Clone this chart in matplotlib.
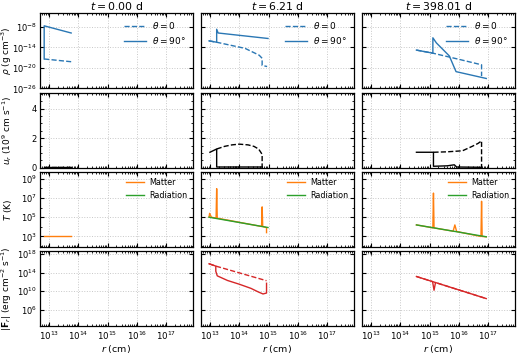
import numpy as np
import matplotlib
matplotlib.use('Agg')
import matplotlib.pyplot as plt
from matplotlib.ticker import FixedLocator, LogLocator, MultipleLocator, NullFormatter

#--Data (log10 r in cm, log10 of quantities)
titles = ['$t = 0.00$ d', '$t = 6.21$ d', '$t = 398.01$ d']

#density, theta = 0 (dashed) and theta = 90 (solid)
rho0_r = [[12.84, 13.76],
          [12.97, 13.23, 14.2, 14.68, 14.78, 14.78, 14.95],
          [14.55, 15.11, 16.0, 16.77, 16.77]]
rho0_v = [[-17.4, -18.2],
          [-12.1, -12.5, -14.3, -16.3, -17.2, -19.3, -19.6],
          [-14.8, -15.7, -17.5, -19.1, -22.4]]
rho90_r = [[12.84, 12.84, 13.76],
           [12.97, 13.23, 13.23, 13.28, 14.98],
           [14.55, 15.11, 15.11, 15.23, 15.45, 15.67, 15.79, 15.9, 16.93]]
rho90_v = [[-17.4, -7.7, -9.8],
           [-12.1, -12.5, -8.7, -9.8, -11.4],
           [-14.8, -15.7, -11.2, -12.7, -14.6, -16.5, -18.9, -21.1, -23.1]]

#radial velocity (1e9 cm/s)
u0_r = [[12.84, 13.76],
        [13.23, 13.5, 13.75, 14.0, 14.3, 14.5, 14.66, 14.75, 14.78, 14.78],
        [15.13, 15.6, 16.12, 16.45, 16.65, 16.77, 16.77]]
u0_v = [[0.02, 0.02],
        [1.27, 1.45, 1.55, 1.6, 1.55, 1.45, 1.27, 1.0, 0.9, 0.0],
        [1.05, 1.08, 1.15, 1.45, 1.65, 1.82, 0.0]]
u90_r = [[12.84, 13.76],
         [13.0, 13.23, 13.23, 14.78],
         [14.55, 15.13, 15.13, 15.6, 15.84, 15.92, 16.77]]
u90_v = [[0.02, 0.02],
         [1.05, 1.27, 0.05, 0.05],
         [1.05, 1.05, 0.1, 0.13, 0.2, 0.05, 0.03]]

#temperatures
tm_r = [[12.84, 13.76],
        [12.97, 12.99, 13.05, 13.21, 13.23, 13.25, 14.76, 14.78, 14.8, 14.9, 14.93, 14.93],
        [14.55, 15.11, 15.13, 15.15, 15.8, 15.86, 15.92, 16.75, 16.77, 16.79, 16.93]]
tm_v = [[3.0, 3.0],
        [5.0, 5.4, 5.0, 4.9, 7.96, 4.9, 4.04, 6.07, 4.03, 3.95, 3.9, 3.4],
        [4.2, 3.9, 7.5, 3.89, 3.55, 4.2, 3.52, 3.0, 6.65, 3.0, 2.97]]
tr_r = [[], [12.97, 14.98], [14.55, 16.93]]
tr_v = [[], [5.0, 3.93], [4.2, 2.97]]

#radiative flux, theta = 0 (dashed) and theta = 90 (solid)
f0_r = [[], [12.97, 13.2, 14.93], [14.55, 16.93]]
f0_v = [[], [15.9, 15.4, 12.25], [13.16, 8.4]]
f90_r = [[],
         [12.97, 13.2, 13.2, 13.25, 13.6, 14.0, 14.4, 14.66, 14.81, 14.93, 14.93],
         [14.55, 15.1, 15.15, 15.2, 16.93]]
f90_v = [[],
         [15.9, 15.4, 14.3, 13.3, 12.3, 11.5, 10.6, 9.8, 9.4, 9.6, 11.7],
         [13.16, 12.05, 10.2, 11.86, 8.4]]


def p(a):
    return np.power(10.0, a)


plt.rcParams.update({
    'font.size': 6.5,
    'mathtext.fontset': 'dejavusans',
    'xtick.direction': 'in', 'ytick.direction': 'in',
    'xtick.top': True, 'ytick.right': True,
    'xtick.minor.visible': True, 'ytick.minor.visible': True,
    'xtick.major.size': 3, 'ytick.major.size': 3,
    'xtick.minor.size': 1.6, 'ytick.minor.size': 1.6,
    'axes.linewidth': 0.9,
    'xtick.labelsize': 6.2, 'ytick.labelsize': 6.0,
    'xtick.major.pad': 2.5, 'ytick.major.pad': 2.2,
})

blue = '#2a77b4'
orange = '#ff7f0e'
green = '#2ca02c'
red = '#d62728'

fig, axes = plt.subplots(4, 3, figsize=(5.2, 3.56), dpi=100, sharex=True, sharey='row')
fig.subplots_adjust(left=0.077, right=0.99, top=0.963, bottom=0.083, wspace=0.055, hspace=0.055)

for j in range(3):
    ax = axes[0, j]
    ax.plot(p(rho0_r[j]), p(rho0_v[j]), '--', color=blue, lw=1, label=r'$\theta = 0$')
    ax.plot(p(rho90_r[j]), p(rho90_v[j]), '-', color=blue, lw=1, label=r'$\theta = 90°$')
    ax.set_title(titles[j], fontsize=7.8, pad=2.5)
    ax.legend(loc='upper right', frameon=False, fontsize=6.5, handlelength=2.4,
              borderaxespad=0.4, labelspacing=0.45, handletextpad=0.7)

    ax = axes[1, j]
    ax.plot(p(u0_r[j]), u0_v[j], '--', color='k', lw=1)
    ax.plot(p(u90_r[j]), u90_v[j], '-', color='k', lw=1)

    ax = axes[2, j]
    ax.plot(p(tm_r[j]), p(tm_v[j]), color=orange, lw=1, label='Matter')
    ax.plot(p(tr_r[j]), p(tr_v[j]), color=green, lw=1, label='Radiation')
    ax.legend(loc='upper right', frameon=False, fontsize=5.8, handlelength=2.2,
              borderaxespad=0.3, labelspacing=0.5, handletextpad=0.6)

    ax = axes[3, j]
    ax.plot(p(f0_r[j]), p(f0_v[j]), '--', color=red, lw=1)
    ax.plot(p(f90_r[j]), p(f90_v[j]), '-', color=red, lw=1)
    ax.set_xlabel('$r$ (cm)', labelpad=0.5, fontsize=6.8)

for ax in axes.flat:
    ax.set_xscale('log')
    ax.set_xlim(5e12, 8e17)
    ax.xaxis.set_major_locator(FixedLocator([1e13, 1e14, 1e15, 1e16, 1e17]))
    ax.xaxis.set_minor_locator(LogLocator(base=10, subs=np.arange(2, 10), numticks=20))
    ax.xaxis.set_minor_formatter(NullFormatter())
    ax.grid(True, which='major', ls=':', color='#c8c8c8', lw=0.7)

for j in range(3):
    axes[0, j].set_yscale('log')
    axes[2, j].set_yscale('log')
    axes[3, j].set_yscale('log')

axes[0, 0].set_ylim(1e-26, 1e-4)
axes[0, 0].yaxis.set_major_locator(FixedLocator([1e-26, 1e-20, 1e-14, 1e-8]))
axes[0, 0].yaxis.set_minor_locator(FixedLocator([]))
axes[1, 0].set_ylim(0, 5.1)
axes[1, 0].yaxis.set_major_locator(MultipleLocator(2))
axes[1, 0].yaxis.set_minor_locator(MultipleLocator(0.5))
axes[2, 0].set_ylim(p(1.9), p(9.7))
axes[2, 0].yaxis.set_major_locator(FixedLocator([1e3, 1e5, 1e7, 1e9]))
axes[2, 0].yaxis.set_minor_locator(FixedLocator(p(np.arange(2, 10))))
axes[2, 0].yaxis.set_minor_formatter(NullFormatter())
axes[3, 0].set_ylim(p(2.4), p(18.6))
axes[3, 0].yaxis.set_major_locator(FixedLocator([1e6, 1e10, 1e14, 1e18]))
axes[3, 0].yaxis.set_minor_locator(FixedLocator([]))

axes[0, 0].set_ylabel(r'$\rho$ (g cm$^{-3}$)', fontsize=6.5)
axes[1, 0].set_ylabel(r'$u_r$ ($10^9$ cm s$^{-1}$)', fontsize=6.5)
axes[2, 0].set_ylabel(r'$T$ (K)', fontsize=6.5)
axes[3, 0].set_ylabel(r'$|\mathbf{F}_r|$ (erg cm$^{-2}$ s$^{-1}$)', fontsize=6.5)
for ax in axes[:, 0]:
    ax.yaxis.set_label_coords(-0.172, 0.5)

fig.savefig('out.png', dpi=100)
